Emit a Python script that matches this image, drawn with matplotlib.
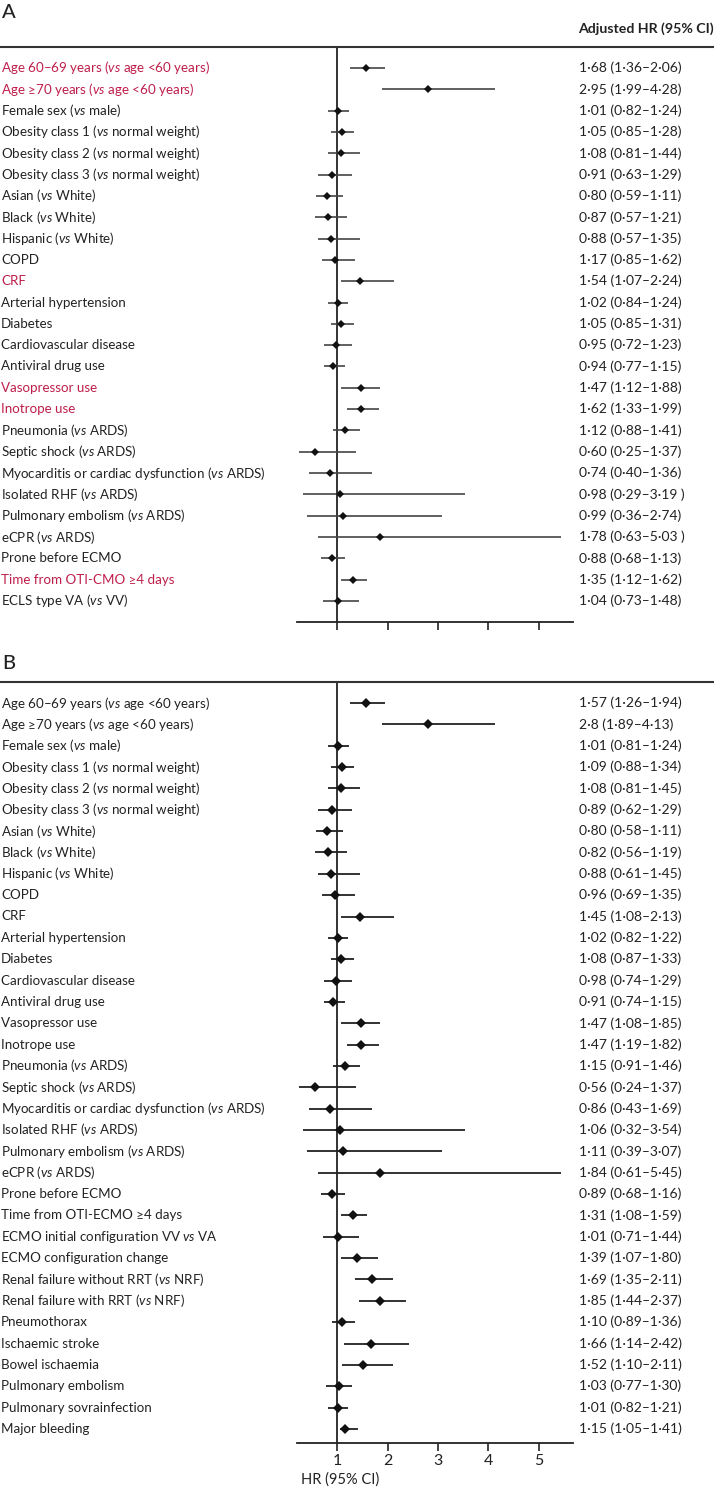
import re
import matplotlib
matplotlib.use('Agg')
import matplotlib.pyplot as plt
from matplotlib import transforms
from matplotlib.lines import Line2D

# ---------------- data ----------------
labels_a = [
    "Age 60–69 years (vs age <60 years)",
    "Age ≥70 years (vs age <60 years)",
    "Female sex (vs male)",
    "Obesity class 1 (vs normal weight)",
    "Obesity class 2 (vs normal weight)",
    "Obesity class 3 (vs normal weight)",
    "Asian (vs White)",
    "Black (vs White)",
    "Hispanic (vs White)",
    "COPD",
    "CRF",
    "Arterial hypertension",
    "Diabetes",
    "Cardiovascular disease",
    "Antiviral drug use",
    "Vasopressor use",
    "Inotrope use",
    "Pneumonia (vs ARDS)",
    "Septic shock (vs ARDS)",
    "Myocarditis or cardiac dysfunction (vs ARDS)",
    "Isolated RHF (vs ARDS)",
    "Pulmonary embolism (vs ARDS)",
    "eCPR (vs ARDS)",
    "Prone before ECMO",
    "Time from OTI-CMO ≥4 days",
    "ECLS type VA (vs VV)",
]
red_rows_a = [0, 1, 10, 15, 16, 24]
text_a = [
    "1·68 (1·36–2·06)", "2·95 (1·99–4·28)", "1·01 (0·82–1·24)", "1·05 (0·85–1·28)",
    "1·08 (0·81–1·44)", "0·91 (0·63–1·29)", "0·80 (0·59–1·11)", "0·87 (0·57–1·21)",
    "0·88 (0·57–1·35)", "1·17 (0·85–1·62)", "1·54 (1·07–2·24)", "1·02 (0·84–1·24)",
    "1·05 (0·85–1·31)", "0·95 (0·72–1·23)", "0·94 (0·77–1·15)", "1·47 (1·12–1·88)",
    "1·62 (1·33–1·99)", "1·12 (0·88–1·41)", "0·60 (0·25–1·37)", "0·74 (0·40–1·36)",
    "0·98 (0·29–3·19 )", "0·99 (0·36–2·74)", "1·78 (0·63–5·03 )", "0·88 (0·68–1·13)",
    "1·35 (1·12–1·62)", "1·04 (0·73–1·48)",
]
# marks as drawn in panel A
hr_a = [1.57, 2.80, 1.01, 1.09, 1.08, 0.89, 0.80, 0.82, 0.88, 0.96, 1.45, 1.02, 1.08,
        0.98, 0.91, 1.47, 1.47, 1.15, 0.56, 0.86, 1.06, 1.11, 1.84, 0.89, 1.31, 1.01]
lo_a = [1.26, 1.89, 0.81, 0.88, 0.81, 0.62, 0.58, 0.56, 0.61, 0.69, 1.08, 0.82, 0.87,
        0.74, 0.74, 1.08, 1.19, 0.91, 0.24, 0.43, 0.32, 0.39, 0.61, 0.68, 1.08, 0.71]
hi_a = [1.94, 4.13, 1.24, 1.34, 1.45, 1.29, 1.11, 1.19, 1.45, 1.35, 2.13, 1.22, 1.33,
        1.29, 1.15, 1.85, 1.82, 1.46, 1.37, 1.69, 3.54, 3.07, 5.45, 1.16, 1.59, 1.44]

labels_b = [
    "Age 60–69 years (vs age <60 years)",
    "Age ≥70 years (vs age <60 years)",
    "Female sex (vs male)",
    "Obesity class 1 (vs normal weight)",
    "Obesity class 2 (vs normal weight)",
    "Obesity class 3 (vs normal weight)",
    "Asian (vs White)",
    "Black (vs White)",
    "Hispanic (vs White)",
    "COPD",
    "CRF",
    "Arterial hypertension",
    "Diabetes",
    "Cardiovascular disease",
    "Antiviral drug use",
    "Vasopressor use",
    "Inotrope use",
    "Pneumonia (vs ARDS)",
    "Septic shock (vs ARDS)",
    "Myocarditis or cardiac dysfunction (vs ARDS)",
    "Isolated RHF (vs ARDS)",
    "Pulmonary embolism (vs ARDS)",
    "eCPR (vs ARDS)",
    "Prone before ECMO",
    "Time from OTI-ECMO ≥4 days",
    "ECMO initial configuration VV vs VA",
    "ECMO configuration change",
    "Renal failure without RRT (vs NRF)",
    "Renal failure with RRT (vs NRF)",
    "Pneumothorax",
    "Ischaemic stroke",
    "Bowel ischaemia",
    "Pulmonary embolism",
    "Pulmonary sovrainfection",
    "Major bleeding",
]
text_b = [
    "1·57 (1·26–1·94)", "2·8 (1·89–4·13)", "1·01 (0·81–1·24)", "1·09 (0·88–1·34)",
    "1·08 (0·81–1·45)", "0·89 (0·62–1·29)", "0·80 (0·58–1·11)", "0·82 (0·56–1·19)",
    "0·88 (0·61–1·45)", "0·96 (0·69–1·35)", "1·45 (1·08–2·13)", "1·02 (0·82–1·22)",
    "1·08 (0·87–1·33)", "0·98 (0·74–1·29)", "0·91 (0·74–1·15)", "1·47 (1·08–1·85)",
    "1·47 (1·19–1·82)", "1·15 (0·91–1·46)", "0·56 (0·24–1·37)", "0·86 (0·43–1·69)",
    "1·06 (0·32–3·54)", "1·11 (0·39–3·07)", "1·84 (0·61–5·45)", "0·89 (0·68–1·16)",
    "1·31 (1·08–1·59)", "1·01 (0·71–1·44)", "1·39 (1·07–1·80)", "1·69 (1·35–2·11)",
    "1·85 (1·44–2·37)", "1·10 (0·89–1·36)", "1·66 (1·14–2·42)", "1·52 (1·10–2·11)",
    "1·03 (0·77–1·30)", "1·01 (0·82–1·21)", "1·15 (1·05–1·41)",
]
hr_b = [1.57, 2.80, 1.01, 1.09, 1.08, 0.89, 0.80, 0.82, 0.88, 0.96, 1.45, 1.02, 1.08,
        0.98, 0.91, 1.47, 1.47, 1.15, 0.56, 0.86, 1.06, 1.11, 1.84, 0.89, 1.31, 1.01,
        1.39, 1.69, 1.85, 1.10, 1.66, 1.52, 1.03, 1.01, 1.15]
lo_b = [1.26, 1.89, 0.81, 0.88, 0.81, 0.62, 0.58, 0.56, 0.61, 0.69, 1.08, 0.82, 0.87,
        0.74, 0.74, 1.08, 1.19, 0.91, 0.24, 0.43, 0.32, 0.39, 0.61, 0.68, 1.08, 0.71,
        1.07, 1.35, 1.44, 0.89, 1.14, 1.10, 0.77, 0.82, 1.05]
hi_b = [1.94, 4.13, 1.24, 1.34, 1.45, 1.29, 1.11, 1.19, 1.45, 1.35, 2.13, 1.22, 1.33,
        1.29, 1.15, 1.85, 1.82, 1.46, 1.37, 1.69, 3.54, 3.07, 5.45, 1.16, 1.59, 1.44,
        1.80, 2.11, 2.37, 1.36, 2.42, 2.11, 1.30, 1.21, 1.41]

x_ticks = [1, 2, 3, 4, 5]
x_ticklabels = ["1", "2", "3", "4", "5"]
header = "Adjusted HR (95% CI)"
xlabel_b = "HR (95% CI)"

# ---------------- style ----------------
W, H = 714, 1491
FONT = 'Lato'
plt.rcParams['font.family'] = [FONT, 'DejaVu Sans']
plt.rcParams['mathtext.fontset'] = 'custom'
plt.rcParams['mathtext.rm'] = FONT
plt.rcParams['mathtext.it'] = FONT + ':italic'
RED = '#be1e4b'
DARK = '#222222'

fig = plt.figure(figsize=(W / 100, H / 100), dpi=100)
renderer = fig.canvas.get_renderer()


def ital(s):
    return re.sub(r'\bvs\b', r'$\\mathit{vs}$', s)


def fit_size(s, target_px, base=10.0):
    t = fig.text(0, 0, s, fontsize=base)
    w = t.get_window_extent(renderer).width
    t.remove()
    return base * target_px / w


LAB_FS = min(10.5, fit_size(ital(labels_a[0]), 209))
VAL_FS = min(10.0, fit_size(text_a[0], 114))


def fx(px):
    return px / W


def fy(py):
    return 1 - py / H


def panel(letter, letter_y, line_y, axis_y, first_row_y, row_h, labels, texts,
          hr, lo, hi, red_rows, show_ticklabels, ms, cicolor, ciw):
    n = len(labels)
    ax = fig.add_axes([fx(297), fy(axis_y), fx(573) - fx(297), fy(line_y) - fy(axis_y)])
    top_pad = (first_row_y - line_y) / row_h
    bottom_pad = (axis_y - (first_row_y + (n - 1) * row_h)) / row_h
    ax.set_ylim(n - 1 + bottom_pad, -top_pad)
    ax.set_xlim(0.2, 5.68)
    for s in ['top', 'left', 'right']:
        ax.spines[s].set_visible(False)
    ax.spines['bottom'].set_color(DARK)
    ax.spines['bottom'].set_linewidth(1.3)
    ax.set_yticks([])
    ax.set_xticks(x_ticks)
    if show_ticklabels:
        ax.set_xticklabels(x_ticklabels, fontsize=11.5, color=DARK)
    else:
        ax.set_xticklabels([])
    ax.tick_params(axis='x', direction='out', length=6, width=1.2, color=DARK, pad=2)
    ax.patch.set_alpha(0)
    ax.axvline(1, color='#111111', lw=1.2, zorder=1)
    ys = list(range(n))
    ax.hlines(ys, lo, hi, color=cicolor, lw=ciw, zorder=2)
    ax.plot(hr, ys, 'D', color='#111111', ms=ms, mew=0, zorder=3)

    tr = transforms.blended_transform_factory(fig.transFigure, ax.transData)
    for i, (lab, t) in enumerate(zip(labels, texts)):
        col = RED if i in red_rows else DARK
        ax.text(fx(1), i, ital(lab), transform=tr, ha='left', va='center',
                fontsize=LAB_FS, color=col, clip_on=False)
        ax.text(fx(579), i, t, transform=tr, ha='left', va='center',
                fontsize=VAL_FS, color=DARK, clip_on=False)

    fig.add_artist(Line2D([0, 1], [fy(line_y)] * 2, transform=fig.transFigure,
                          color='#333333', lw=1.5))
    fig.text(fx(2), fy(letter_y), letter, ha='left', va='center', fontsize=14.5,
             fontweight='medium', color=DARK)
    return ax


panel("A", 13, 47, 622, 68, 21.32, labels_a, text_a, hr_a, lo_a, hi_a, red_rows_a,
      False, 4.4, '#444444', 1.2)
fig.text(fx(578), fy(29), header, ha='left', va='center', fontsize=10.2,
         fontweight='bold', color=DARK)

panel("B", 664, 682, 1443, 703, 21.35, labels_b, text_b, hr_b, lo_b, hi_b, [],
      True, 5.6, DARK, 1.3)
fig.text(fx(301), fy(1480), xlabel_b, ha='left', va='center', fontsize=10.5,
         color=DARK)

fig.savefig('out.png', dpi=100, facecolor='white')
